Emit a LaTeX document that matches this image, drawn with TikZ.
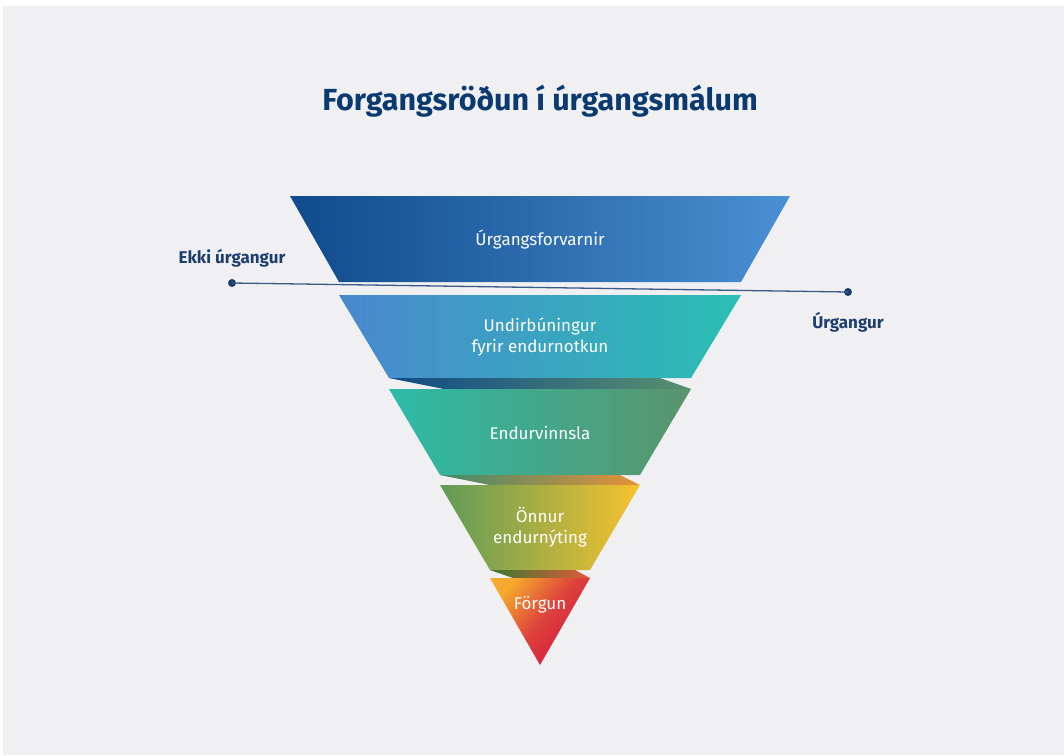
\documentclass[tikz,border=0pt]{standalone}
\usepackage{fontspec}
\setmainfont{Fira Sans}
\definecolor{bg}{HTML}{F0F0F2}
\definecolor{navy}{HTML}{0B3A70}
\definecolor{labnavy}{HTML}{1D3F6E}
\definecolor{linecol}{HTML}{3A5A8A}
\definecolor{bAl}{HTML}{0F4A8C}\definecolor{bAr}{HTML}{4A90D2}
\definecolor{bBl}{HTML}{4A88CF}\definecolor{bBr}{HTML}{2BBFB3}
\definecolor{bCl}{HTML}{2DBBA8}\definecolor{bCr}{HTML}{5A946C}
\definecolor{bDl}{HTML}{5F9A58}\definecolor{bDr}{HTML}{F7C22E}
\definecolor{bEt}{HTML}{F6A92C}\definecolor{bEb}{HTML}{D31642}
\definecolor{fAl}{HTML}{0E4A88}\definecolor{fAr}{HTML}{5A8F6E}
\definecolor{fBl}{HTML}{3F8A6A}\definecolor{fBr}{HTML}{E8903A}
\definecolor{fCl}{HTML}{3A7A30}\definecolor{fCr}{HTML}{E05A3A}
\tikzset{
  bandtext/.style={text=white, font=\fontsize{17}{21.5}\selectfont, align=center},
  sidelabel/.style={text=labnavy, font=\bfseries\fontsize{17}{20}\selectfont},
  dotnode/.style={circle, fill=labnavy, inner sep=0pt, minimum size=8pt},
}
\begin{document}
\begin{tikzpicture}[x=1pt,y=-1pt]
\useasboundingbox (0,0) rectangle (1064,755);
\fill[white] (0,0) rectangle (1064,755);
\fill[bg] (3,6) rectangle (1064,755);
% title
\node[text=navy, font=\bfseries\fontsize{30.5}{36}\selectfont] (title) at (540,101) {Forgangsröðun í úrgangsmálum};
% bands
\shade[left color=bAl, right color=bAr] (290,196) -- (790,196) -- (741,282) -- (339,282) -- cycle;
\shade[left color=bBl, right color=bBr] (339,295) -- (741,295) -- (691,378) -- (389,378) -- cycle;
\shade[left color=fAl, right color=fAr] (389,378) -- (660,378) -- (691,389) -- (444,389) -- cycle;
\shade[left color=bCl, right color=bCr] (389,389) -- (691,389) -- (640,475) -- (440,475) -- cycle;
\shade[left color=fBl, right color=fBr] (440,475) -- (620,475) -- (640,485) -- (490,485) -- cycle;
\shade[left color=bDl, right color=bDr] (440,485) -- (640,485) -- (590,570) -- (490,570) -- cycle;
\shade[left color=fCl, right color=fCr] (490,570) -- (575,570) -- (590,578) -- (513,578) -- cycle;
\shade[top color=bEt, bottom color=bEb, middle color=bEb!70!bEt, shading angle=50] (490,578) -- (590,578) -- (540,665) -- cycle;
% band labels
\node[bandtext] (b1) at (540,240) {Úrgangsforvarnir};
\node[bandtext] (b2) at (540,337) {Undirbúningur\\fyrir endurnotkun};
\node[bandtext] (b3) at (540,433) {Endurvinnsla};
\node[bandtext] (b4) at (540,527) {Önnur\\endurnýting};
\node[bandtext] (b5) at (540,605) {Förgun};
% divider
\node[dotnode] (dl) at (232,283) {};
\node[dotnode] (dr) at (848,292) {};
\draw[linecol, line width=1.3pt] (dl.center) -- (dr.center);
\node[sidelabel] (ekki) at (232,258) {Ekki úrgangur};
\node[sidelabel] (urg) at (848,322) {Úrgangur};
\end{tikzpicture}
\end{document}
